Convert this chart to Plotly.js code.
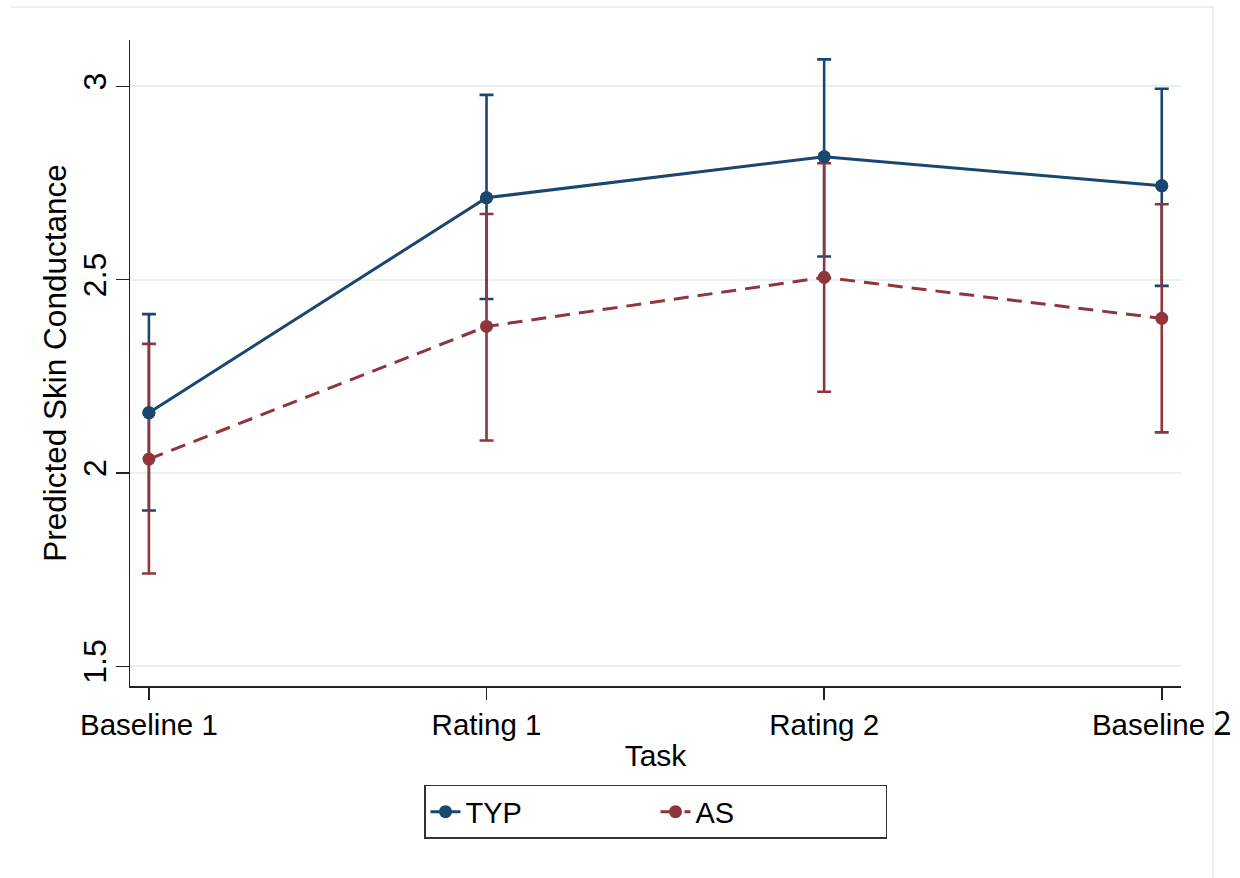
<!DOCTYPE html>
<html>
<head>
<meta charset="utf-8">
<script src="https://cdn.plot.ly/plotly-3.0.1.min.js"></script>
<style>html,body{margin:0;padding:0;background:#fff;}#chart{width:1240px;height:878px;}</style>
</head>
<body>
<div id="chart"></div>
<script>
// Data
const tasks = ["Baseline 1", "Rating 1", "Rating 2", "Baseline 2"];
const tickLabels = ["Baseline 1", "Rating 1", "Rating 2", "Baseline <span style=\"font-family:'Noto Sans';font-size:32px\">2</span>"];
const typMean = [2.156, 2.712, 2.818, 2.743];
const typUpper = [2.411, 2.978, 3.070, 2.994];
const typLower = [1.903, 2.450, 2.560, 2.484];
const asMean = [2.036, 2.379, 2.506, 2.400];
const asUpper = [2.334, 2.670, 2.801, 2.695];
const asLower = [1.740, 2.084, 2.210, 2.105];
const yTicks = [1.5, 2, 2.5, 3];
const yTickText = ["1.5", "2", "2.5", "3"];

const navy = "#1a476f";
const maroon = "#90353b";
const FONT = "Liberation Sans, Arial, sans-serif";

function errs(mean, up, lo) {
  return {
    type: "data", symmetric: false,
    array: up.map((u, i) => u - mean[i]),
    arrayminus: lo.map((l, i) => mean[i] - l),
    thickness: 2.6, width: 7
  };
}

const traces = [
  {
    x: tasks, y: typMean, name: "TYP", type: "scatter", mode: "lines+markers",
    line: {color: navy, width: 3},
    marker: {color: navy, size: 13, symbol: "circle"},
    error_y: Object.assign(errs(typMean, typUpper, typLower), {color: navy})
  },
  {
    x: tasks, y: asMean, name: "AS", type: "scatter", mode: "lines+markers",
    line: {color: maroon, width: 3, dash: "15px,9px"},
    marker: {color: maroon, size: 13, symbol: "circle"},
    error_y: Object.assign(errs(asMean, asUpper, asLower), {color: maroon})
  },
  {
    x: tasks, y: typMean, name: "TYP", type: "scatter", mode: "markers",
    marker: {color: navy, size: 13, symbol: "circle"},
    showlegend: false, hoverinfo: "skip"
  }
];

const layout = {
  width: 1240, height: 878,
  paper_bgcolor: "#ffffff", plot_bgcolor: "#ffffff",
  margin: {l: 130, r: 59, t: 40, b: 192},
  font: {family: FONT, size: 29, color: "#000"},
  showlegend: true,
  xaxis: {
    type: "category",
    range: [-0.056, 3.057],
    tickvals: tasks, ticktext: tickLabels,
    showline: true, linecolor: "#222", linewidth: 1.5,
    ticks: "outside", ticklen: 12, tickwidth: 1.5, tickcolor: "#222",
    showgrid: false, zeroline: false,
    tickfont: {family: FONT, size: 29.5, color: "#000"},
    title: {text: "Task", font: {family: FONT, size: 30, color: "#000"}, standoff: 2}
  },
  yaxis: {
    range: [1.449, 3.120],
    tickvals: yTicks, ticktext: yTickText,
    tickangle: -90,
    showline: true, linecolor: "#222", linewidth: 1.5,
    ticks: "outside", ticklen: 13, tickwidth: 1.5, tickcolor: "#222",
    ticklabelstandoff: -3,
    showgrid: true, gridcolor: "#e8f0f1", gridwidth: 2,
    zeroline: false,
    tickfont: {family: FONT, size: 32, color: "#000"},
    title: {text: "Predicted Skin Conductance", font: {family: FONT, size: 31.5, color: "#000"}, standoff: 0}
  },
  legend: {
    orientation: "h",
    x: 0.5, xanchor: "center",
    y: -0.153, yanchor: "top",
    bordercolor: "#333", borderwidth: 1.5,
    bgcolor: "#ffffff",
    font: {family: FONT, size: 29, color: "#000"},
    entrywidth: 185
  },
  shapes: [
    {type: "line", xref: "paper", yref: "paper", x0: -0.1132, x1: 1.0305, y0: 1.0511, y1: 1.0511,
     line: {color: "#e3ebeb", width: 1.5}},
    {type: "line", xref: "paper", yref: "paper", x0: 1.0305, x1: 1.0305, y0: 1.0511, y1: -0.32,
     line: {color: "#e3ebeb", width: 1.5}}
  ]
};

Plotly.newPlot("chart", traces, layout, {displayModeBar: false, staticPlot: true});
</script>
</body>
</html>
